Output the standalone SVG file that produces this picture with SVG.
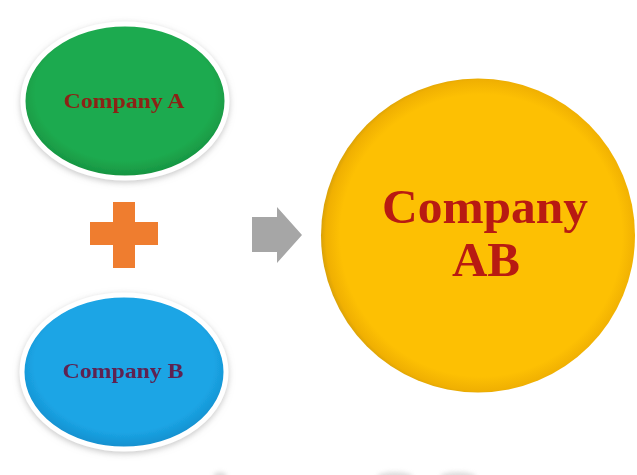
<svg xmlns="http://www.w3.org/2000/svg" width="637" height="475" viewBox="0 0 637 475">
  <defs>
    <style>
      .lbl { font-family: "Liberation Serif", "Times New Roman", serif; font-weight: bold; text-anchor: middle; }
      .ring { stroke: #ffffff; stroke-width: 5; }
    </style>
    <filter id="soft" x="-20%" y="-20%" width="140%" height="140%">
      <feGaussianBlur in="SourceAlpha" stdDeviation="3"/>
      <feOffset dx="0" dy="2" result="b"/>
      <feFlood flood-color="#9a9a9a" flood-opacity="0.55"/>
      <feComposite in2="b" operator="in"/>
      <feMerge><feMergeNode/><feMergeNode in="SourceGraphic"/></feMerge>
    </filter>
    <radialGradient id="gGreen" cx="50%" cy="45%" r="55%">
      <stop offset="0.8" stop-color="#1faa4f"/>
      <stop offset="1" stop-color="#15913f"/>
    </radialGradient>
    <radialGradient id="gBlue" cx="50%" cy="45%" r="55%">
      <stop offset="0.8" stop-color="#1ba5e5"/>
      <stop offset="1" stop-color="#148dcc"/>
    </radialGradient>
    <radialGradient id="gGold" cx="51%" cy="50%" r="51%">
      <stop offset="0.88" stop-color="#fdc003"/>
      <stop offset="0.97" stop-color="#f0b002"/>
      <stop offset="1" stop-color="#d9a108"/>
    </radialGradient>
    <filter id="haze" x="-50%" y="-50%" width="200%" height="200%">
      <feGaussianBlur stdDeviation="2"/>
    </filter>
  </defs>

  <rect width="637" height="475" fill="#ffffff"/>

  <!-- source companies -->
  <g id="company-a" filter="url(#soft)">
    <ellipse class="ring" cx="125" cy="101" rx="102" ry="77" fill="url(#gGreen)"/>
    <text class="lbl" x="124" y="108" font-size="21" fill="#8c2216" textLength="121" lengthAdjust="spacingAndGlyphs">Company A</text>
  </g>

  <g id="company-b" filter="url(#soft)">
    <ellipse class="ring" cx="124" cy="372" rx="102" ry="77" fill="url(#gBlue)"/>
    <text class="lbl" x="123" y="378" font-size="21" fill="#5e2351" textLength="121" lengthAdjust="spacingAndGlyphs">Company B</text>
  </g>

  <!-- plus sign -->
  <g id="plus">
    <rect x="90" y="222" width="68" height="23" fill="#ef7d2f"/>
    <rect x="113" y="202" width="22" height="66" fill="#ef7d2f"/>
  </g>

  <!-- merge arrow -->
  <g id="connectors">
    <path d="M252,217 H277 V207 L302,235 L277,263 V252 H252 Z" fill="#a6a6a6"/>
  </g>

  <!-- merged company -->
  <g id="company-ab">
    <circle cx="478" cy="235.5" r="157" fill="url(#gGold)"/>
    <text class="lbl" x="485" y="223" font-size="49" fill="#b81a12" textLength="206" lengthAdjust="spacingAndGlyphs">Company</text>
    <text class="lbl" x="486" y="276" font-size="49" fill="#b81a12">AB</text>
  </g>

  <!-- faint shapes along the lower edge -->
  <g fill="#c8c8c8" opacity="0.6" filter="url(#haze)">
    <ellipse cx="220" cy="476" rx="7" ry="4"/>
    <ellipse cx="395" cy="477" rx="18" ry="5"/>
    <ellipse cx="458" cy="477" rx="18" ry="5"/>
  </g>
</svg>
